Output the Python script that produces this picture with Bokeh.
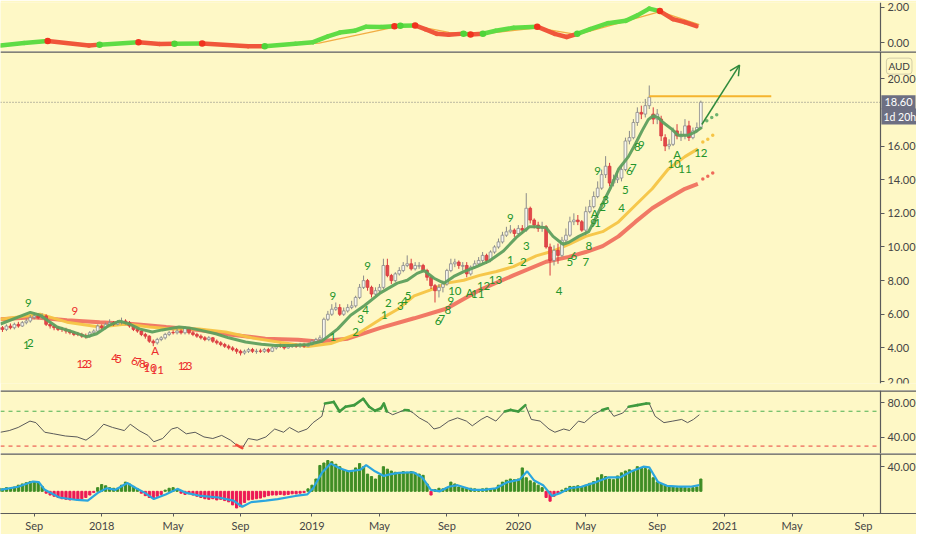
import math
import pandas as pd
from bokeh.plotting import figure
from bokeh.models import (Range1d, FixedTicker, NumeralTickFormatter, Span, Label,
                          Arrow, OpenHead, ColumnDataSource)
from bokeh.layouts import column
from bokeh.embed import file_html
from bokeh.resources import INLINE
from bokeh.core.properties import value

# ---------------- data (weekly bars, first bar = week of 2017-07-03) ----------------
START = "2017-07-03"

opens = [5.1,5.2,5.1,5.3,5.2,5.4,5.3,5.5,5.6,5.8,
         5.9,5.8,5.9,5.4,5.3,5.2,5.12,5.1,5.0,4.9,
         4.82,4.8,4.72,4.7,4.9,5.0,5.3,5.2,5.4,5.5,
         5.4,5.5,5.6,5.5,5.3,5.1,5.0,4.8,4.7,4.4,
         4.3,4.5,4.6,4.8,4.92,4.9,5.0,4.9,5.2,4.9,
         4.8,4.7,4.6,4.5,4.6,4.4,4.3,4.2,4.1,4.0,
         3.9,3.8,3.7,3.8,3.9,3.78,3.82,3.8,3.9,3.8,
         4.0,4.12,4.1,4.0,4.08,4.12,4.1,4.2,4.1,4.2,
         4.4,4.5,4.55,5.7,6.0,6.3,6.4,6.0,6.2,6.4,
         6.5,7.0,7.6,8.0,7.6,7.2,7.4,7.6,8.9,8.3,
         8.0,8.4,8.6,8.9,9.0,8.7,8.85,8.9,8.6,8.2,
         7.7,7.4,7.6,7.8,8.6,9.0,9.1,8.85,8.9,8.4,
         8.8,9.0,9.2,9.5,9.2,9.7,10.0,10.3,10.7,10.9,
         11.0,10.8,11.1,11.0,12.3,11.6,11.3,11.1,11.2,10.0,
         9.2,9.8,9.5,10.4,10.7,11.5,11.6,11.5,11.0,12.1,
         12.4,13.0,13.5,14.3,14.8,13.8,14.0,14.1,14.6,16.3,
         16.5,17.4,18.0,17.9,18.4,17.9,17.6,17.6,16.5,16.0,
         16.1,16.9,16.55,16.6,17.2,16.5,16.9,17.1]
highs = [5.35,5.3,5.4,5.45,5.5,5.55,5.6,5.75,5.95,6.1,
         6.05,6.05,6.0,5.5,5.4,5.3,5.25,5.2,5.1,5.0,
         4.95,4.9,4.85,5.0,5.1,5.4,5.4,5.5,5.7,5.6,
         5.65,5.8,5.7,5.6,5.35,5.2,5.05,4.9,4.75,4.5,
         4.6,4.7,4.9,5.0,5.05,5.15,5.1,5.3,5.25,5.0,
         4.9,4.8,4.7,4.7,4.65,4.5,4.4,4.3,4.2,4.1,
         4.0,3.9,3.9,4.0,4.0,3.95,3.95,4.0,4.0,4.1,
         4.2,4.25,4.2,4.2,4.2,4.25,4.3,4.3,4.3,4.5,
         4.6,4.75,5.8,6.2,6.6,6.7,6.6,6.4,6.6,6.8,
         7.1,7.8,8.3,8.1,7.7,7.6,7.8,9.3,9.3,8.4,
         8.5,8.8,9.1,9.5,9.3,9.1,9.1,9.0,8.7,8.3,
         7.8,7.8,8.0,8.7,9.3,9.3,9.2,9.1,9.1,8.9,
         9.2,9.4,9.7,9.6,9.8,10.1,10.5,10.9,11.2,11.3,
         11.1,11.3,11.3,13.2,12.4,11.7,11.5,11.5,11.3,10.2,
         10.1,10.2,10.6,11.1,11.8,12.0,11.9,11.6,12.4,12.8,
         13.3,13.9,14.6,15.4,15.0,14.3,14.5,14.9,16.5,16.9,
         17.6,18.3,18.4,18.8,19.6,18.3,18.2,17.8,16.7,16.4,
         17.1,17.3,16.9,17.6,17.5,17.1,17.4,18.7]
lows = [5.0,4.95,5.0,5.1,5.1,5.2,5.25,5.4,5.5,5.7,
        5.7,5.7,5.3,5.15,5.05,5.0,4.95,4.85,4.8,4.7,
        4.7,4.6,4.55,4.6,4.8,4.95,5.1,5.1,5.3,5.3,
        5.35,5.4,5.4,5.2,5.0,4.9,4.7,4.55,4.3,4.1,
        4.2,4.4,4.5,4.7,4.8,4.8,4.8,4.8,4.8,4.7,
        4.6,4.5,4.4,4.4,4.3,4.2,4.1,4.0,3.9,3.8,
        3.65,3.55,3.6,3.7,3.7,3.65,3.7,3.7,3.7,3.75,
        3.9,4.0,3.9,3.95,4.0,4.0,4.0,4.0,4.05,4.15,
        4.3,4.4,4.5,5.6,5.9,6.2,5.9,5.9,6.1,6.3,
        6.4,6.9,7.5,7.4,7.0,7.1,7.2,7.5,8.2,7.8,
        7.9,8.3,8.5,8.8,8.6,8.6,8.7,8.5,8.0,7.5,
        6.7,7.0,7.3,7.7,8.5,8.8,8.7,8.6,8.2,8.3,
        8.7,8.9,9.0,9.0,9.1,9.6,9.9,10.2,10.6,10.8,
        10.6,10.7,10.8,10.9,11.4,11.1,10.9,10.9,9.9,8.3,
        8.9,9.0,9.4,10.2,10.6,11.3,11.3,10.9,10.7,12.0,
        12.3,12.9,13.4,14.1,13.6,13.6,13.8,13.9,14.5,16.1,
        16.4,17.2,17.6,17.7,18.2,17.3,17.3,16.3,15.7,15.8,
        16.0,16.4,16.3,16.4,16.3,16.4,16.8,17.0]
closes = [5.2,5.1,5.3,5.2,5.4,5.3,5.5,5.6,5.8,5.9,
          5.8,5.9,5.4,5.3,5.2,5.1,5.1,5.0,4.9,4.8,
          4.8,4.7,4.7,4.9,5.0,5.3,5.2,5.4,5.5,5.4,
          5.5,5.6,5.5,5.3,5.1,5.0,4.8,4.7,4.4,4.3,
          4.5,4.6,4.8,4.9,4.9,5.0,4.9,5.2,4.9,4.8,
          4.7,4.6,4.5,4.6,4.4,4.3,4.2,4.1,4.0,3.9,
          3.8,3.7,3.8,3.9,3.8,3.8,3.8,3.9,3.8,4.0,
          4.1,4.1,4.0,4.1,4.1,4.1,4.2,4.1,4.2,4.4,
          4.5,4.6,5.7,6.0,6.3,6.4,6.0,6.2,6.4,6.5,
          7.0,7.6,8.0,7.6,7.2,7.4,7.6,8.9,8.3,8.0,
          8.4,8.6,8.9,9.0,8.7,8.9,8.9,8.6,8.2,7.7,
          7.4,7.6,7.8,8.6,9.0,9.1,8.9,8.9,8.4,8.8,
          9.0,9.2,9.5,9.2,9.7,10.0,10.3,10.7,10.9,11.0,
          10.8,11.1,11.0,12.3,11.6,11.3,11.1,11.2,10.0,9.2,
          9.8,9.5,10.4,10.7,11.5,11.6,11.5,11.0,12.1,12.4,
          13.0,13.5,14.3,14.8,13.8,14.0,14.1,14.6,16.3,16.5,
          17.4,18.0,17.9,18.4,18.9,17.6,17.9,16.6,16.0,16.1,
          16.9,16.6,16.6,17.2,16.5,16.9,17.1,18.6]

# moving averages (week index, price)
ma_fast_w = [0.5,8,10.5,14.75,18.75,22.25,24.75,28,30.5,33,35.5,38.75,41.25,45.5,48,50.5,54.75,58,62.25,66.25,69.75,73.75,78,81.5,85.5,88.75,92.25,96.25,100.5,103,105.5,107.25,109.75,112.25,114.75,117.25,120.5,123.75,127.25,130.5,133.75,135.5,138,139.75,142.25,143.75,146.25,148.75,150.5,152.25,154.25,156.25,158.75,160.5,162.25,163.75,165,166.25,167.5,169.75,171.25,173.75,175.5,177.25]
ma_fast_v = [5.42,6.11,5.94,5.24,4.95,4.66,4.84,5.36,5.59,5.42,5.13,4.95,5.07,5.24,5.19,5.07,4.84,4.6,4.35,4.22,4.15,4.15,4.2,4.4,5.13,5.94,6.52,7.27,7.85,8.02,8.43,8.6,8.14,7.85,8.25,8.54,8.83,9.18,9.76,10.57,11.2,11.2,11.15,10.63,10.16,10.28,10.63,10.91,11.72,12.59,13.52,14.62,15.37,16.12,16.93,17.57,17.8,17.69,17.4,16.99,16.64,16.64,16.82,17.11]
ma_fast_fw = [178.5,179.75,181]
ma_fast_fv = [17.51,17.69,17.86]
ma_mid_w = [0.5,10.5,17.25,25.5,32.25,38,43.75,50.5,57.25,63.75,71.25,78,83.75,90.5,96.25,100.5,104.75,108.75,113,117.25,121.25,125.5,129.75,135.5,139.75,143.75,148,152.25,156.25,160.5,164.75,168.75,173,176.25]
ma_mid_v = [5.71,6.0,5.53,5.24,5.42,5.24,5.13,5.13,4.95,4.6,4.32,4.09,4.26,4.84,5.71,6.28,7.09,7.44,7.85,8.02,8.31,8.54,8.83,9.47,9.76,10.16,10.63,10.91,11.49,12.48,13.46,14.62,15.37,15.83]
ma_mid_fw = [177.5,178.75,180]
ma_mid_fv = [16.24,16.41,16.64]
ma_slow_w = [0.5,8.75,17.25,25.5,33.75,42.25,50.5,58.75,67.25,75.5,80.5,88,96.25,104.75,113,121.25,129.75,138,143.75,148,152.25,156.25,160.5,164.75,168.75,173,176.25]
ma_slow_v = [5.71,5.82,5.65,5.53,5.42,5.24,5.07,4.78,4.55,4.49,4.38,4.55,5.19,5.76,6.34,7.44,8.31,9.12,9.41,9.7,10.05,10.63,11.49,12.3,12.88,13.46,13.75]
ma_slow_fw = [177.5,178.75,180]
ma_slow_fv = [14.04,14.21,14.39]

# TD-style count labels (week index, price)
cnt_up_t = ["9","1","2","1","2","3","4","9","9","1","2","3","4","5","6","7","8","9","10","A","11","12","13",
            "1","2","3","9","4","5","6","7","8","A","9","1","2","3","4","5","6","7","8","9","9","A","10","11","12"]
cnt_up_w = [7.5,7.0,8.0,84.25,90.0,91.25,92.5,84.25,93.0,97.25,98.25,101.25,102.25,103.25,110.75,111.75,113.25,114.0,115.0,118.75,120.75,122.25,125.25,
            129.0,132.25,133.0,129.0,141.25,144.0,145.0,148.0,148.75,150.25,150.0,151.0,152.25,153.0,157.0,158.0,159.0,160.0,161.0,162.0,151.0,171.0,170.25,173.0,177.0]
cnt_up_v = [6.69,4.20,4.32,4.66,4.95,5.70,6.28,7.09,8.89,5.94,6.69,6.51,6.80,7.09,5.59,5.70,6.23,6.80,7.38,7.27,7.21,7.67,8.02,
            9.23,9.12,10.05,11.72,7.38,9.12,9.47,9.12,10.05,12.01,11.43,11.43,12.36,12.77,12.30,13.40,14.50,14.68,15.95,16.06,14.50,15.49,14.91,14.62,15.60]
cnt_dn_t = ["9","1","2","3","4","5","6","7","8","9","A","10","11","1","2","3"]
cnt_dn_w = [19.25,20.5,21.75,22.75,29.25,30.25,34.25,35.25,36.25,37.25,39.5,38.25,40.0,46.0,47.0,48.0]
cnt_dn_v = [6.17,3.04,3.04,3.04,3.39,3.33,3.22,3.16,3.04,2.93,3.85,2.81,2.70,2.93,2.93,2.93]

resist_w = [164, 194.75]
resist_v = [18.96, 18.96]
arrow_w = [177.25, 186.75]
arrow_v = [17.28, 20.81]
countdown = "1d 20h"
currency = "AUD"

# top oscillator
osc_w = [0.5,6.45,12.39,22.8,25.47,35.28,40.63,44.35,51.33,62.93,67.09,74.8,79.28,83.0,86.0,89.7,92.65,96.4,99.79,101.27,104.99,107.5,110.5,113.46,117.18,118.96,122.08,125.3,129.81,135.76,140.2,143.19,145.86,149.1,153.59,158.05,161.0,163.99,166.67,169.94,172.9,175.89]
osc_v = [-0.17,-0.03,0.09,-0.17,-0.12,0.02,-0.08,-0.07,-0.05,-0.21,-0.21,-0.07,0.02,0.35,0.56,0.66,0.89,0.87,0.92,0.94,0.96,0.75,0.49,0.44,0.5,0.45,0.49,0.66,0.83,0.89,0.49,0.31,0.49,0.75,1.09,1.22,1.53,1.91,1.77,1.32,1.15,0.92]
sig_w = [0.5,12.4,22.8,35.3,51.3,67.1,80.8,99.8,105.0,113.5,122.1,135.8,145.9,166.7,176.6]
sig_v = [-0.2,0.06,-0.13,0.0,-0.05,-0.21,-0.03,0.87,0.94,0.57,0.49,0.83,0.44,1.74,1.01]
cross_w = [12.39,25.47,35.28,44.35,51.33,67.09,99.79,101.27,104.99,117.18,118.96,122.08,135.76,145.86,166.67]
cross_v = [0.09,-0.12,0.02,-0.07,-0.05,-0.21,0.92,0.94,0.96,0.5,0.45,0.49,0.89,0.49,1.77]
cross_up = [False,True,False,True,False,True,False,True,False,True,False,True,False,True,False]

# RSI
rsi_w = [0.5,2.7,4.96,7.93,9.42,11.65,13.88,16.85,19.82,22.05,24.28,26.51,28.74,31.71,33.2,35.43,37.66,39.14,41.37,43.6,45.09,47.32,49.55,51.78,54.01,56.24,58.47,59.95,61.44,62.93,65.16,67.38,69.61,71.84,73.33,75.56,77.79,79.28,81.5,82.25,84.48,85.96,87.45,89.68,91.91,93.4,94.88,96.37,97.11,97.85,99.34,102.31,103.4,104.54,106.03,108.26,109.74,111.23,113.46,115.69,117.92,119.4,121.64,123.12,125.35,127.58,129.07,131.0,132.78,134.27,136.5,138.73,140.22,142.45,143.93,146.16,147.65,149.88,152.1,153.59,155.08,157.31,158.79,161.02,163.25,164.0,165.48,167.71,169.94,172.17,173.65,175.14,176.63]
rsi_v = [45.9,47.8,51.4,58.7,56.9,45.9,44.1,41.6,40.5,36.8,44.1,55.1,51.4,47.8,55.1,47.8,42.3,35.0,38.7,49.6,51.4,44.1,45.9,40.5,38.7,42.3,36.8,31.3,27.7,38.7,36.8,40.5,49.6,45.9,51.4,45.9,49.6,56.9,64.2,78.8,80.7,69.7,75.2,77.0,84.3,75.2,70.5,73.4,78.8,69.7,66.0,71.5,71.0,67.9,62.4,56.9,49.6,51.4,58.7,62.4,58.7,53.3,60.6,64.2,58.7,69.7,71.5,69.8,77.0,60.6,58.7,49.6,45.9,49.6,47.8,58.7,56.9,66.0,71.5,73.4,64.2,67.9,75.2,77.0,78.8,78.8,64.2,56.9,58.7,60.6,56.9,60.6,66.0]
rsi_hi, rsi_lo = 70, 30

# momentum histogram + signal
hist = [5,4,6,5,7, 10,12,14,16,16, 15,8, -3, -6,-8,-10,-12,-13,-14,-13,-14,-12,-10, -6,-2, 6,11,9,6, 5,5,10, 15,12, 8,4,
        -3,-7,-10,-11,-8,-5, 2,5,6,3, -3,-5,-4,-6, -8,-10,-12,-13,-12,-14,-13,-15, -17,-22,-27,-25,-18, -14,-13,-12,-11,-9,
        -7,-6,-6,-5,-6,-5,-4,-4,-3,-2, 4,10,20, 42,46,50,48,44,40, 35,33,32,38, 45,40, 28,24,20,26, 40,36,
        33,31,30,32,31,32,30,28,26, 12,-6, 3,5,4,6, 15,12,7, 6,5,5,4,3,4,5,3,4, 10,15,18,20,19,20, 38,
        22,17,14,10,6, -10,-16,-8, -3,2,5,8, 8,9,7,10, 13,16,22,27,24,20,19, 25,30,33,35,33, 40,38,37,35,
        22,15,12,10, 7,8,6,7,6,5,6,7, 20]
blue_w = [0.5,4.96,8.67,10.16,11.65,15.36,19.82,22.5,25.02,27.25,29.48,32.46,34.69,36.92,39.14,42.12,45.09,47.32,51.03,55.49,59.21,61.44,63.67,67.38,70.36,74.82,77.79,79.28,81.5,83.73,85.96,88.19,91.17,92.65,94.88,97.11,98.6,100.83,104.54,106.77,108.97,111.23,113.46,115.69,119.4,122.38,125.35,128.32,131.3,133.23,135.01,137.24,139.47,141.7,143.93,146.9,150.62,153.59,156.56,159.54,162.51,164.0,166.22,168.45,171.42,174.4,176.63]
blue_v = [2.5,7.5,16,15,2.5,-10,-14,-15,-2.5,5,2.5,13.5,5,-2.5,-12.5,-5,4,-2.5,-7.5,-10,-15,-25,-17.5,-15,-12.5,-7.5,-5,5,30,45,37.5,32.5,35,42.5,32.5,25,27.5,30,31,22.5,2.5,0,7.5,10,2.5,2.5,5,15,19,32.5,17.5,10,-7.5,-2.5,5,7.5,15,22.5,22.5,32.5,40,39,15,9,7.5,7.5,10]

tick_dates = ["2017-09-01","2018-01-01","2018-05-01","2018-09-01","2019-01-01","2019-05-01","2019-09-01",
              "2020-01-01","2020-05-01","2020-09-01","2021-01-01","2021-05-01","2021-09-01"]
tick_labels = ["Sep","2018","May","Sep","2019","May","Sep","2020","May","Sep","2021","May","Sep"]

# ---------------- styling / layout ----------------
BG = "#FEF8C6"
AX = "#5b5b5b"
TXT = "#454545"
FONT = "Lato"
W = 916
AXIS_W = 222.25            # week position of the price scale
xr = Range1d(0.5, 231.35)  # frame spans the whole width; scale drawn at AXIS_W


def make_fig(h, y0, y1, ticks, bottom_border=0, top_border=0, xaxis=False):
    p = figure(width=W, height=h, x_range=xr, y_range=Range1d(y0, y1),
               output_backend="svg", toolbar_location=None,
               x_axis_location="below" if xaxis else None, y_axis_location="right",
               min_border_left=0, min_border_right=0, min_border_top=top_border,
               min_border_bottom=bottom_border)
    p.background_fill_color = BG
    p.border_fill_color = BG
    p.outline_line_color = None
    p.grid.visible = False
    ax = p.yaxis[0]
    ax.fixed_location = AXIS_W
    ax.ticker = FixedTicker(ticks=ticks)
    ax.formatter = NumeralTickFormatter(format="0.00")
    ax.axis_line_color = AX
    ax.axis_line_width = 1.2
    ax.major_tick_line_color = AX
    ax.major_tick_out = 4
    ax.major_tick_in = 0
    ax.minor_tick_out = 0
    ax.minor_tick_in = 0
    ax.major_label_standoff = 3
    ax.major_label_text_font_size = "11px"
    ax.major_label_text_color = TXT
    ax.major_label_text_font = FONT
    return p


def top_sep(p):
    p.add_layout(Span(location=p.y_range.end, dimension="width",
                      line_color=AX, line_width=2.4))


# ---------- panel 1: oscillator ----------
p1 = make_fig(51, -0.507, 2.254, [0, 2], top_border=2)
p1.line(sig_w, sig_v, line_color="#f2ad43", line_width=1.3)
xs, ys, cs = [], [], []
for k in range(len(osc_w) - 1):
    st = True
    for cw, cu in zip(cross_w, cross_up):
        if cw <= osc_w[k] + 1e-6:
            st = cu
    xs.append([osc_w[k], osc_w[k + 1]])
    ys.append([osc_v[k], osc_v[k + 1]])
    cs.append("#5fdc45" if st else "#f0563b")
p1.multi_line(xs, ys, line_color=cs, line_width=4.5, line_cap="round")
p1.scatter(cross_w, cross_v, size=6.5,
           fill_color=["#4fd43a" if u else "#f0321e" for u in cross_up],
           line_color=None)

# ---------- panel 2: price ----------
p2 = make_fig(339, 1.884, 21.62, [2, 4, 6, 8, 10, 12, 14, 16, 20], bottom_border=7)
top_sep(p2)
p2.line([xr.start, AXIS_W], [closes[-1], closes[-1]], line_color="#7a7a7a",
        line_width=1, line_dash="1 2")
p2.line(ma_slow_w, ma_slow_v, line_color="#ef6a5a", line_width=4, alpha=0.9)
p2.scatter(ma_slow_fw, ma_slow_fv, size=3.5, color="#ef6a5a", line_color=None)
p2.line(ma_mid_w, ma_mid_v, line_color="#f6c445", line_width=3, alpha=0.95)
p2.scatter(ma_mid_fw, ma_mid_fv, size=3.5, color="#f6c445", line_color=None)

wk = list(range(len(closes)))
up = [c >= o for o, c in zip(opens, closes)]
src = ColumnDataSource(dict(
    w=wk, hi=highs, lo=lows,
    top=[max(o, c) for o, c in zip(opens, closes)],
    bot=[min(o, c) for o, c in zip(opens, closes)],
    fill=["#f6f5ee" if u else "#e2484b" for u in up],
    line=["#8a8a8a" if u else "#d9393c" for u in up]))
p2.segment(x0="w", y0="lo", x1="w", y1="hi", line_color="line", line_width=1, source=src)
p2.vbar(x="w", width=0.7, top="top", bottom="bot", fill_color="fill",
        line_color="line", line_width=0.8, source=src)

p2.line(ma_fast_w, ma_fast_v, line_color="#5e9f5e", line_width=3, alpha=0.95)
p2.scatter(ma_fast_fw, ma_fast_fv, size=3.5, color="#6fb36f", line_color=None)

p2.line(resist_w, resist_v, line_color="#f5b42e", line_width=2)
p2.add_layout(Arrow(end=OpenHead(size=10, line_color="#2f8a3c", line_width=1.5),
                    x_start=arrow_w[0], y_start=arrow_v[0], x_end=arrow_w[1], y_end=arrow_v[1],
                    line_color="#2f8a3c", line_width=1.5))

p2.text(x=cnt_up_w, y=cnt_up_v, text=cnt_up_t, text_color="#23942b",
        text_font=value(FONT), text_font_size="11.5px", text_align="center", text_baseline="middle")
p2.text(x=cnt_dn_w, y=cnt_dn_v, text=cnt_dn_t, text_color="#ec2b2b",
        text_font=value(FONT), text_font_size="11.5px", text_align="center", text_baseline="middle")

p2.add_layout(Label(x=AXIS_W, y=closes[-1], text=f"{closes[-1]:.2f}", text_font=FONT,
                    text_font_size="11px", text_color="white", text_align="left",
                    text_baseline="middle", background_fill_color="#6d6f82",
                    padding=3, x_offset=1))
p2.add_layout(Label(x=AXIS_W, y=17.75, text=countdown, text_font=FONT,
                    text_font_size="10.5px", text_color="white", text_align="left",
                    text_baseline="middle", background_fill_color="#6d6f82",
                    padding=2, x_offset=1))
p2.add_layout(Label(x=AXIS_W, y=20.75, text=currency, text_font=FONT,
                    text_font_size="10px", text_color="#3a3a3a", text_align="left",
                    text_baseline="middle", background_fill_color=BG,
                    border_line_color="#d3cda6", border_radius=3, padding=2, x_offset=6))

# ---------- panel 3: RSI ----------
p3 = make_fig(63, 21.5, 93.8, [40, 80])
top_sep(p3)
p3.line([xr.start, AXIS_W], [rsi_hi, rsi_hi], line_color="#4caf50", line_width=1, line_dash="4 4")
p3.line([xr.start, AXIS_W], [rsi_lo, rsi_lo], line_color="#e8413c", line_width=1, line_dash="4 4")
p3.line(rsi_w, rsi_v, line_color="#5a5a5a", line_width=1)
gx, gy, rx, ry = [], [], [], []
for k in range(len(rsi_w) - 1):
    a, b = rsi_v[k], rsi_v[k + 1]
    if min(a, b) >= rsi_hi - 0.5:
        gx.append([rsi_w[k], rsi_w[k + 1]]); gy.append([a, b])
    elif max(a, b) <= rsi_lo + 2:
        rx.append([rsi_w[k], rsi_w[k + 1]]); ry.append([a, b])
p3.multi_line(gx, gy, line_color="#3f9a3f", line_width=2.6, line_cap="round")
p3.multi_line(rx, ry, line_color="#f04a3a", line_width=2.6, line_cap="round")

# ---------- panel 4: histogram ----------
p4 = make_fig(81, -35.96, 61.4, [40], bottom_border=20, xaxis=True)
top_sep(p4)
p4.vbar(x=wk, width=0.55, top=hist, bottom=0,
        color=["#3f8d25" if h >= 0 else "#ec1a55" for h in hist])
p4.line(blue_w, blue_v, line_color="#2ba6df", line_width=2.2)

start = pd.Timestamp(START)
tick_pos = [int(math.ceil((pd.Timestamp(d) - start).days / 7)) for d in tick_dates]
xa = p4.xaxis[0]
xa.ticker = FixedTicker(ticks=tick_pos)
xa.major_label_overrides = {t: l for t, l in zip(tick_pos, tick_labels)}
xa.axis_line_color = AX
xa.axis_line_width = 1.2
xa.major_tick_line_color = AX
xa.major_tick_out = 3
xa.major_tick_in = 0
xa.minor_tick_out = 0
xa.minor_tick_in = 0
xa.major_label_standoff = 2
xa.major_label_text_font_size = "11px"
xa.major_label_text_color = TXT
xa.major_label_text_font = FONT

layout = column(p1, p2, p3, p4, spacing=0)
open("out.html", "w").write(file_html(layout, INLINE))
